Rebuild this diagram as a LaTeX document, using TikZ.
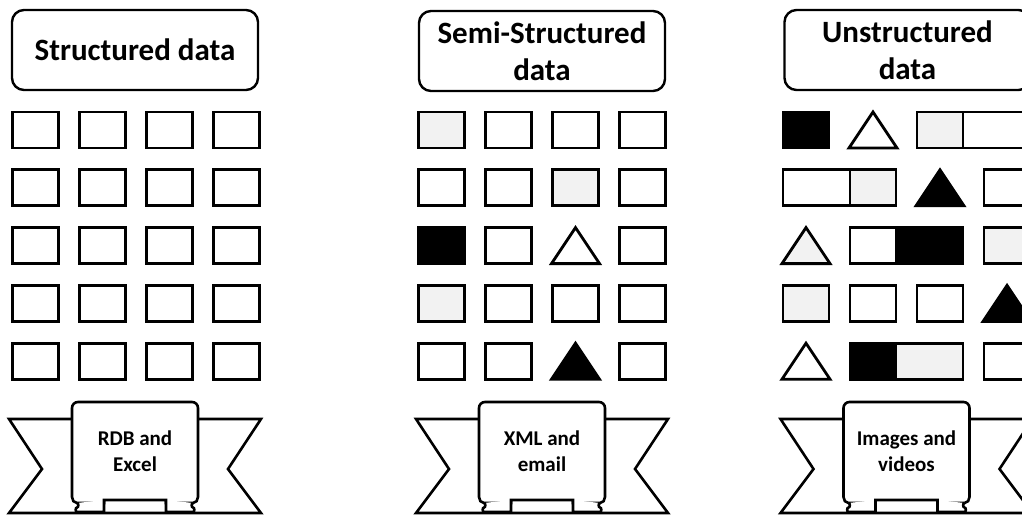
\documentclass[tikz,border=0pt]{standalone}
\usepackage{fontspec}
\setmainfont{Carlito}
\usepackage{xcolor}
\usepackage{tikz}
\definecolor{cellgray}{RGB}{242,242,242}

\tikzset{
  cell/.style={draw, line width=2.8pt, fill=white, minimum width=46pt, minimum height=36pt, inner sep=0pt, outer sep=0pt},
  wide/.style={cell, minimum width=67pt},
  header/.style={draw, line width=2.4pt, fill=white, rounded corners=12pt, minimum width=246pt, minimum height=80pt, align=center, font=\bfseries\fontsize{31}{37}\selectfont},
  label/.style={align=center, font=\bfseries\fontsize{21}{26}\selectfont},
  tri/.pic={\draw[pic actions, line width=2.8pt] (-24,18) -- (0,-18) -- (24,18) -- cycle;},
  ribbon/.pic={
    % tails
    \draw[line width=2.6pt, fill=white] (-63,17) -- (-126,17) -- (-93,67) -- (-126,111) -- (126,111) -- (93,67) -- (126,17) -- (63,17);
    % panel
    \draw[line width=2.6pt, fill=white] (-63,95) [rounded corners=6pt] -- (-63,0) -- (63,0) [sharp corners] -- (63,95)
      to[out=-90,in=0] (58,101) -- (31,101) -- (31,98) -- (-31,98) -- (-31,101) -- (-58,101) to[out=180,in=-90] (-63,95) -- cycle;
    % scrolls
    \draw[line width=2.6pt, fill=white] (-58,101) to[out=0,in=0] (-58,105.5) to[out=180,in=180] (-58,110) -- (-31,110) -- (-31,98);
    \draw[line width=2.6pt, fill=white] (58,101) to[out=180,in=180] (58,105.5) to[out=0,in=0] (58,110) -- (31,110) -- (31,98);
  }
}

\begin{document}
\begin{tikzpicture}[x=1pt, y=-1pt]
\useasboundingbox (0,0) rectangle (1022,517);
\clip (0,0) rectangle (1022,517);
%--- Structured data ---
\begin{scope}[xshift=0pt]
  \node[header] (hs) at (135,50) {Structured data};
  \foreach \r in {1,...,5}
    \foreach \c in {1,...,4}
      \node[cell] (s-\r-\c) at ({35.5+67*(\c-1)},{130+57.8*(\r-1)}) {};
  \pic at (135,402) {ribbon};
  \node[label] (bs) at (135,451) {RDB and\\Excel};
\end{scope}
%--- Semi-structured data ---
\begin{scope}[xshift=406pt]
  \node[header] (hm) at (136,51) {Semi-Structured\\data};
  \foreach \r/\c/\f in {1/1/cellgray, 1/2/white, 1/3/white, 1/4/white,
                        2/1/white, 2/2/white, 2/3/cellgray, 2/4/white,
                        3/1/black, 3/2/white, 3/4/white,
                        4/1/cellgray, 4/2/white, 4/3/white, 4/4/white,
                        5/1/white, 5/2/white, 5/4/white}
    \node[cell, fill=\f] (m-\r-\c) at ({35.5+67*(\c-1)},{130+57.8*(\r-1)}) {};
  % triangles
  \pic[draw, fill=white] (m-3-3) at (169.5,245.6) {tri};
  \pic[draw, fill=black] (m-5-3) at (169.5,361.2) {tri};
  \pic at (136,402) {ribbon};
  \node[label] (bm) at (136,451) {XML and\\email};
\end{scope}
%--- Unstructured data ---
\begin{scope}[xshift=770.5pt]
  \node[header] (hu) at (137,50) {Unstructured\\data};
  % row 1
  \node[cell, fill=black] (u-1-1) at (35.5,130) {};
  \pic[draw, fill=white] (u-1-2) at (102.5,130) {tri};
  \node[cell, fill=cellgray] (u-1-3) at (169.5,130) {};
  \node[wide, anchor=west] (u-1-4) at (u-1-3.east) {};
  % row 2
  \node[cell, fill=cellgray] (u-2-2) at (102.5,187.8) {};
  \node[wide, anchor=east] (u-2-1) at (u-2-2.west) {};
  \pic[draw, fill=black] (u-2-3) at (169.5,187.8) {tri};
  \node[cell] (u-2-4) at (236.5,187.8) {};
  % row 3
  \pic[draw, fill=cellgray] (u-3-1) at (35.5,245.6) {tri};
  \node[cell] (u-3-2) at (102.5,245.6) {};
  \node[wide, anchor=west, fill=black] (u-3-3) at (u-3-2.east) {};
  \node[cell, fill=cellgray] (u-3-4) at (236.5,245.6) {};
  % row 4
  \node[cell, fill=cellgray] (u-4-1) at (35.5,303.4) {};
  \node[cell] (u-4-2) at (102.5,303.4) {};
  \node[cell] (u-4-3) at (169.5,303.4) {};
  \pic[draw, fill=black] (u-4-4) at (236.5,303.4) {tri};
  % row 5
  \pic[draw, fill=white] (u-5-1) at (35.5,361.2) {tri};
  \node[cell, fill=black] (u-5-2) at (102.5,361.2) {};
  \node[wide, anchor=west, fill=cellgray] (u-5-3) at (u-5-2.east) {};
  \node[cell] (u-5-4) at (236.5,361.2) {};
  \pic at (136,402) {ribbon};
  \node[label] (bu) at (136,451) {Images and\\videos};
\end{scope}
\end{tikzpicture}
\end{document}
